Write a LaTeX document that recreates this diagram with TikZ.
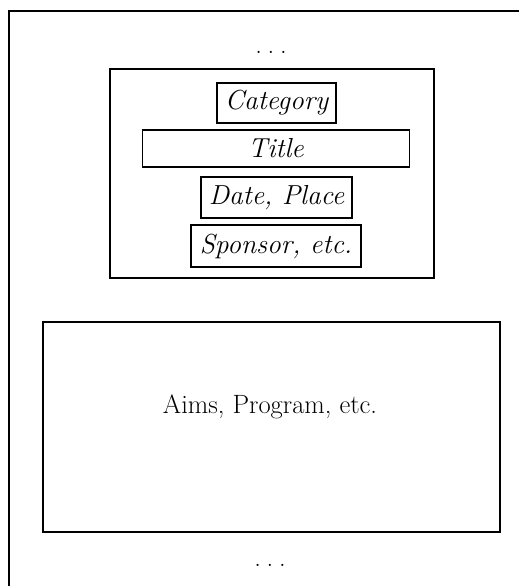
\documentclass[tikz,border=0pt]{standalone}
\newcommand\bigroman{\fontsize{26.5}{30}\selectfont\upshape}
\newcommand\bigital{\fontsize{27.5}{31}\selectfont\itshape}
\newcommand\spreaddots{.\hspace{5.8pt}.\hspace{5.8pt}.}
\begin{document}
\begin{tikzpicture}[x=1pt,y=1pt,
  frame/.style={line width=1.8pt},
  bigbox/.style={draw,line width=1.5pt,rectangle,inner sep=0pt},
  smallbox/.style={draw,line width=1.3pt,rectangle,inner sep=0pt,font=\bigital},
  romantext/.style={inner sep=0pt,font=\bigroman,anchor=base}]
\useasboundingbox (0,0) rectangle (519,-586);
\draw[frame] (9,-586) -- (9,-11) -- (519,-11);
\node[romantext] (dtop) at (271,-53.5) {\spreaddots};
\node[bigbox,minimum width=324pt,minimum height=209pt] (head) at (272,-173.5) {};
\node[smallbox,minimum width=119pt,minimum height=40pt] (cat) at (276.5,-103) {Category};
\node[smallbox,minimum width=267pt,minimum height=37pt] (title) at (276,-148.5) {Title};
\node[smallbox,minimum width=151pt,minimum height=41pt] (date) at (276.5,-197.5) {Date, Place};
\node[smallbox,minimum width=170pt,minimum height=42pt] (spon) at (276,-246) {Sponsor, etc.};
\node[bigbox,minimum width=457pt,minimum height=210pt] (body) at (271.5,-427) {};
\node[romantext] (aims) at (270,-413) {Aims, Program, etc.};
\node[romantext] (dbot) at (270,-566.5) {\spreaddots};
\end{tikzpicture}
\end{document}
